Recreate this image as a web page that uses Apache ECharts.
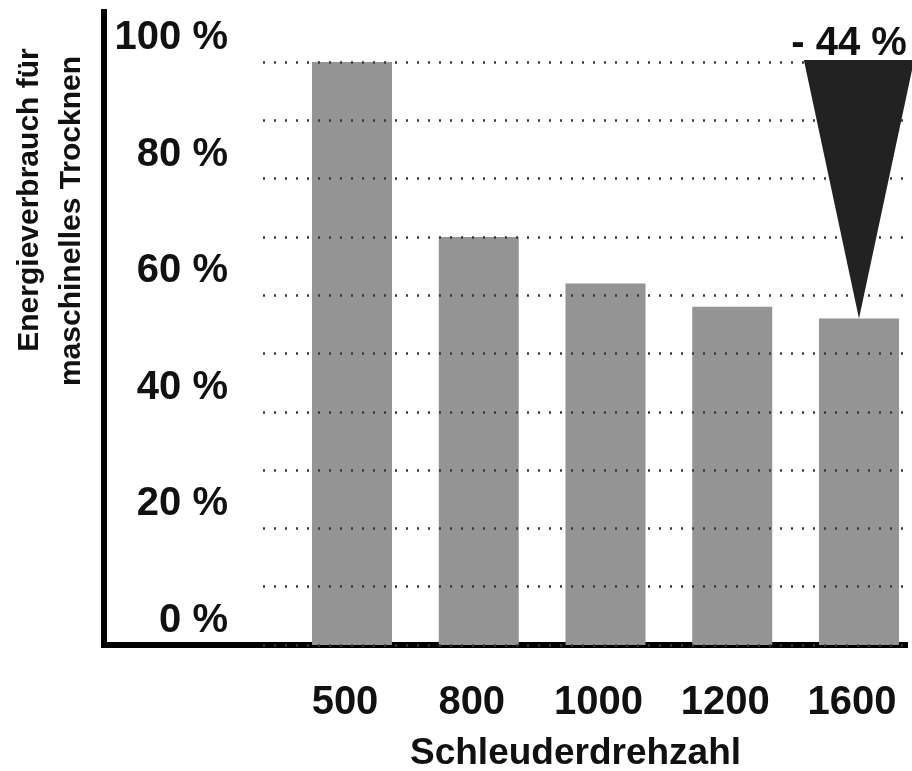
<!DOCTYPE html>
<html><head><meta charset="utf-8">
<script src="https://cdn.jsdelivr.net/npm/echarts@6/dist/echarts.min.js"></script>
<style>html,body{margin:0;padding:0;background:#fff}#c{width:912px;height:771px}</style>
</head><body><div id="c"></div>
<script>
const categories = ['500', '800', '1000', '1200', '1600'];
const energyValues = [100, 70, 62, 58, 56];
const yTickStep = 20;
const gridStep = 10;
const xAxisTitle = 'Schleuderdrehzahl';
const yAxisTitle = ['Energieverbrauch für', 'maschinelles Trocknen'];

const FONT = "'Liberation Sans',Arial,sans-serif";
const chart = echarts.init(document.getElementById('c'), null, {renderer: 'canvas'});
const firstVal = energyValues[0], lastVal = energyValues[energyValues.length - 1];
const changePct = Math.round((lastVal - firstVal) / firstVal * 100);
const changeLabel = (changePct < 0 ? '- ' : '+ ') + Math.abs(changePct) + ' %';

const hiddenVal = (gi) => ({gridIndex: gi, type: 'value', show: false, min: 0, max: 100});

const option = {
  animation: false,
  backgroundColor: '#fff',
  grid: [
    {left: 104, right: 7, top: 12, bottom: 126},
    {left: 104, right: 7, top: 62, bottom: 126},
    {left: 263, right: 7, top: 62, bottom: 126},
    {left: 352, right: 53, top: 62, bottom: 126}
  ],
  xAxis: [
    {gridIndex: 0, type: 'value', min: 0, max: 1,
     axisLine: {show: true, onZero: false, lineStyle: {color: '#000', width: 6, cap: 'square'}},
     axisTick: {show: false}, axisLabel: {show: false}, splitLine: {show: false}},
    {gridIndex: 1, type: 'value', show: false},
    {gridIndex: 2, type: 'value', show: false},
    {gridIndex: 3, type: 'category', data: categories, boundaryGap: false,
     axisLine: {show: false}, axisTick: {show: false},
     axisLabel: {margin: 38, color: '#111', fontFamily: FONT, fontWeight: 'bold', fontSize: 40,
       verticalAlign: 'top', padding: [0, 14, 0, 0]}}
  ],
  yAxis: [
    {gridIndex: 0, type: 'value', min: 0, max: 1,
     axisLine: {show: true, onZero: false, lineStyle: {color: '#000', width: 6, cap: 'square'}},
     axisTick: {show: false}, axisLabel: {show: false}, splitLine: {show: false}},
    {gridIndex: 1, type: 'value', min: 0, max: 100, interval: yTickStep,
     axisLine: {show: false}, axisTick: {show: false}, splitLine: {show: false},
     axisLabel: {inside: true, margin: 124, align: 'right', verticalAlign: 'bottom',
       padding: [0, 0, 4, 0],
       color: '#111', fontFamily: FONT, fontWeight: 'bold', fontSize: 40,
       formatter: (v) => v + ' %'}},
    {gridIndex: 2, type: 'value', min: 0, max: 100, interval: gridStep, z: 5,
     axisLine: {show: false}, axisTick: {show: false}, axisLabel: {show: false},
     splitLine: {show: true, lineStyle: {type: [2, 9], width: 2.5, color: '#3a3a3a'}}},
    hiddenVal(3)
  ],
  series: [
    {type: 'bar', xAxisIndex: 3, yAxisIndex: 3, data: energyValues, barWidth: 80, clip: false,
     itemStyle: {color: '#949494'}, z: 2},
    {type: 'custom', xAxisIndex: 3, yAxisIndex: 3, z: 10, clip: false,
     data: [[energyValues.length - 1, firstVal, lastVal]],
     renderItem: function (params, api) {
       const top = api.coord([api.value(0), api.value(1)]);
       const bot = api.coord([api.value(0), api.value(2)]);
       const hw = api.size([1, 0])[0] * 0.435;
       return {type: 'group', children: [
         {type: 'polygon', shape: {points: [[top[0] - hw, top[1] - 2], [top[0] + hw, top[1] - 2], [bot[0], bot[1]]]},
          style: {fill: '#222'}},
         {type: 'text', x: top[0] - 10, y: top[1] + 2,
          style: {text: changeLabel, textAlign: 'center', textVerticalAlign: 'bottom',
            font: 'bold 40px ' + FONT, fill: '#111'}}
       ]};
     }}
  ],
  graphic: [
    {type: 'text', x: 410, y: 754, z: 10,
     style: {text: xAxisTitle, textAlign: 'left', textVerticalAlign: 'middle',
       font: 'bold 37px ' + FONT, fill: '#111'}},
    {type: 'text', x: 30, y: 200, rotation: Math.PI / 2, z: 10,
     style: {text: yAxisTitle[0], textAlign: 'center', textVerticalAlign: 'middle',
       font: 'bold 30px ' + FONT, fill: '#111'}},
    {type: 'text', x: 72, y: 221, rotation: Math.PI / 2, z: 10,
     style: {text: yAxisTitle[1], textAlign: 'center', textVerticalAlign: 'middle',
       font: 'bold 30px ' + FONT, fill: '#111'}}
  ]
};
chart.setOption(option);
</script>
</body></html>
